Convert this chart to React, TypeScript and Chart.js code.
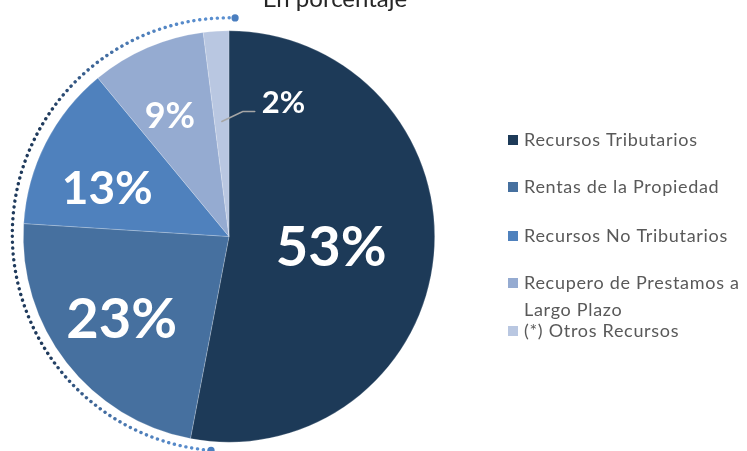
import React, { useEffect, useRef } from "react";
import { Chart, registerables } from "chart.js";

Chart.register(...registerables);

const title = "En porcentaje";
const categories = [
  "Recursos Tributarios",
  "Rentas de la Propiedad",
  "Recursos No Tributarios",
  "Recupero de Prestamos a Largo Plazo",
  "(*) Otros Recursos",
];
const legendLines = [
  ["Recursos Tributarios"],
  ["Rentas de la Propiedad"],
  ["Recursos No Tributarios"],
  ["Recupero de Prestamos a", "Largo Plazo"],
  ["(*) Otros Recursos"],
];
const values = [53, 23, 13, 9, 2];
const valueLabels = ["53%", "23%", "13%", "9%", "2%"];
const colors = ["#1d3a58", "#46709f", "#4f81bd", "#95abd1", "#b9c7e1"];

// style: label radius factor, angle shift (rad) and font size per slice (last is outside)
const labelRadius = [0.5, 0.66, 0.635, 0.65, 0.56];
const labelShift = [0.02, 0.0, -0.1, -0.05, 0];
const labelFont = [56, 56, 46, 36, 31];
const legendRowY = [140, 187, 236, 283, 331];
const legendLineGap = 27;

const overlay = {
  id: "overlay",
  afterDatasetsDraw(chart: any) {
    const ctx: CanvasRenderingContext2D = chart.ctx;
    const meta = chart.getDatasetMeta(0);
    const arcs = meta.data;
    if (!arcs.length) return;
    const a0 = arcs[0];
    const cx = a0.x;
    const cy = a0.y;
    const R = a0.outerRadius;

    ctx.save();
    // title (clipped at top)
    ctx.fillStyle = "#262626";
    ctx.font = "24px Lato";
    ctx.textAlign = "center";
    ctx.textBaseline = "alphabetic";
    ctx.fillText(title, cx + 106, 7);

    // dotted arc
    const ar = R + 11;
    const acy = cy - 2;
    const sa = -Math.PI / 2 + 0.028;
    const ea = Math.PI / 2 + 0.083;
    const grad = ctx.createLinearGradient(0, acy - ar, 0, acy + ar);
    grad.addColorStop(0, "#5a8fd0");
    grad.addColorStop(0.22, "#1f3a5c");
    grad.addColorStop(0.78, "#1f3a5c");
    grad.addColorStop(1, "#5a8fd0");
    ctx.strokeStyle = grad;
    ctx.lineWidth = 3.4;
    ctx.lineCap = "round";
    ctx.setLineDash([0.1, 5.8]);
    ctx.beginPath();
    ctx.arc(cx, acy, ar, sa, ea, true);
    ctx.stroke();
    ctx.setLineDash([]);
    ctx.fillStyle = "#4a7ebf";
    [sa, ea].forEach((a) => {
      ctx.beginPath();
      ctx.arc(cx + ar * Math.cos(a), acy + ar * Math.sin(a), 3.6, 0, Math.PI * 2);
      ctx.fill();
    });

    // value labels
    arcs.forEach((arc: any, i: number) => {
      const { startAngle, endAngle } = arc.getProps(["startAngle", "endAngle"], true);
      const mid = (startAngle + endAngle) / 2 + labelShift[i];
      const r = R * labelRadius[i];
      const px = cx + r * Math.cos(mid);
      const py = cy + r * Math.sin(mid);
      ctx.font = `bold ${labelFont[i]}px Lato`;
      ctx.fillStyle = "#ffffff";
      if (i < arcs.length - 1) {
        ctx.textAlign = "center";
        ctx.textBaseline = "middle";
        ctx.fillText(valueLabels[i], px, py);
      } else {
        const ex = px + 21;
        const ey = py - 10;
        const fx = ex + 12;
        ctx.strokeStyle = "#a6a6a6";
        ctx.lineWidth = 1.5;
        ctx.beginPath();
        ctx.moveTo(px, py);
        ctx.lineTo(ex, ey);
        ctx.lineTo(fx, ey);
        ctx.stroke();
        ctx.textAlign = "left";
        ctx.textBaseline = "alphabetic";
        ctx.fillText(valueLabels[i], fx + 7, ey + 1);
      }
    });

    // legend
    ctx.font = "18px Lato";
    (ctx as any).letterSpacing = "0.7px";
    ctx.textAlign = "left";
    ctx.textBaseline = "middle";
    legendLines.forEach((lines, i) => {
      const y = legendRowY[i];
      ctx.fillStyle = colors[i];
      ctx.fillRect(508, y - 5, 10, 10);
      ctx.fillStyle = "#595959";
      lines.forEach((t, j) => ctx.fillText(t, 524, y + j * legendLineGap));
    });
    ctx.restore();
  },
};

export default function App() {
  const ref = useRef<HTMLCanvasElement>(null);
  useEffect(() => {
    if (!ref.current) return;
    const chart = new Chart(ref.current, {
      type: "pie",
      data: {
        labels: categories,
        datasets: [
          {
            data: values,
            backgroundColor: colors,
            borderColor: "rgba(255,255,255,0.35)",
            borderWidth: 0.6,
            hoverOffset: 0,
            offset: 0,
          },
        ],
      },
      options: {
        responsive: false,
        animation: false,
        events: [],
        layout: { padding: { left: 23, right: 312, top: 30.5, bottom: 8.5 } },
        plugins: {
          legend: { display: false },
          title: { display: false },
          tooltip: { enabled: false },
        },
      },
      plugins: [overlay],
    });
    return () => chart.destroy();
  }, []);
  return (
    <div style={{ position: "fixed", left: 0, top: 0, width: 747, height: 451, background: "#fff" }}>
      <canvas ref={ref} width={747} height={451} />
    </div>
  );
}
